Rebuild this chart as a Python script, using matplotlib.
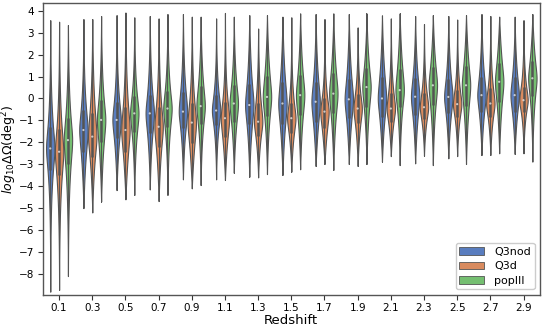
import colorsys
import numpy as np
import matplotlib
matplotlib.use("Agg")
import matplotlib.pyplot as plt
import seaborn as sns
from matplotlib.patches import Patch

redshift = ["0.1", "0.3", "0.5", "0.7", "0.9", "1.1", "1.3", "1.5",
            "1.7", "1.9", "2.1", "2.3", "2.5", "2.7", "2.9"]
models = ["Q3nod", "Q3d", "popIII"]

# per-violin summary: top tip, upper quartile, median, lower quartile, bottom tip
q3nod_hi = [3.57, 3.62, 3.80, 3.76, 3.85, 3.65, 3.80, 3.73, 3.85, 3.85, 3.79, 3.76, 3.76, 3.85, 3.73]
q3nod_q3 = [-1.29, -0.53, -0.15, 0.18, 0.30, 0.15, 0.66, 0.76, 0.76, 0.87, 0.96, 0.91, 0.87, 0.96, 0.96]
q3nod_med = [-2.28, -1.44, -0.98, -0.68, -0.60, -0.55, -0.30, -0.23, -0.15, -0.04, 0.00, 0.08, 0.07, 0.15, 0.15]
q3nod_q1 = [-3.26, -2.43, -1.82, -1.56, -1.36, -1.21, -1.17, -1.17, -1.06, -0.90, -0.83, -0.76, -0.68, -0.60, -0.60]
q3nod_lo = [-8.81, -5.00, -4.18, -4.15, -3.69, -3.69, -3.57, -3.49, -3.08, -2.99, -2.88, -2.96, -2.73, -2.58, -2.53]

q3d_hi = [3.50, 3.62, 3.92, 3.65, 3.73, 3.90, 3.19, 3.70, 3.62, 3.24, 3.65, 3.39, 3.60, 3.76, 3.57]
q3d_q3 = [-1.41, -0.65, -0.41, -0.38, -0.23, -0.15, -0.23, -0.23, 0.03, 0.20, 0.23, 0.23, 0.38, 0.46, 0.53]
q3d_med = [-2.43, -1.74, -1.44, -1.29, -1.10, -0.90, -1.06, -0.90, -0.60, -0.46, -0.46, -0.40, -0.26, -0.23, -0.08]
q3d_q1 = [-3.50, -2.66, -2.43, -2.23, -2.05, -1.74, -1.71, -1.56, -1.36, -1.14, -1.06, -0.95, -0.83, -0.83, -0.60]
q3d_lo = [-8.73, -5.20, -4.60, -4.68, -4.10, -3.72, -3.60, -3.34, -2.99, -3.08, -2.63, -2.61, -2.63, -2.58, -2.50]

pop3_hi = [3.35, 3.76, 3.70, 3.85, 3.73, 3.73, 3.80, 3.88, 3.88, 3.88, 3.88, 3.80, 3.80, 3.73, 3.85]
pop3_q3 = [-0.90, -0.08, 0.10, 0.35, 0.56, 0.60, 1.02, 1.07, 1.14, 1.37, 1.33, 1.45, 1.48, 1.63, 1.72]
pop3_med = [-1.90, -0.98, -0.68, -0.46, -0.35, -0.23, 0.07, 0.15, 0.22, 0.52, 0.38, 0.60, 0.60, 0.76, 0.92]
pop3_q1 = [-2.99, -1.97, -1.52, -1.32, -1.17, -1.06, -0.80, -0.76, -0.68, -0.38, -0.41, -0.30, -0.35, -0.15, 0.10]
pop3_lo = [-8.10, -4.70, -4.40, -4.40, -3.95, -3.39, -3.45, -3.23, -3.26, -2.99, -3.04, -3.04, -2.99, -2.50, -2.88]

stats = {
    "Q3nod": (q3nod_hi, q3nod_q3, q3nod_med, q3nod_q1, q3nod_lo),
    "Q3d": (q3d_hi, q3d_q3, q3d_med, q3d_q1, q3d_lo),
    "popIII": (pop3_hi, pop3_q3, pop3_med, pop3_q1, pop3_lo),
}

colors = sns.color_palette("muted", 3, desat=0.75)
lum = min(colorsys.rgb_to_hls(*c)[1] for c in colors) * 0.6
gray = (lum, lum, lum)


def shape(hi, q3, med, q1, lo, n=400):
    # slightly rounded Laplace-like profile matching the quartiles
    y = np.linspace(lo, hi, n)
    d = y - med
    b = np.where(d > 0, (q3 - med) / 0.693, (med - q1) / 0.693)
    b0 = 0.35 * b
    f = np.exp(-(np.sqrt(b0 ** 2 + d ** 2) - b0) / b)
    D = np.where(d > 0, hi - med, med - lo)
    f = f * (1 - np.clip(np.abs(d) / D, 0, 1) ** 4)
    return y, f


fig = plt.figure(figsize=(5.45, 3.27), dpi=100)
ax = fig.add_axes([0.078, 0.098, 0.913, 0.892])

n_hue = len(models)
each = 0.8 / n_hue
for h, (m, col) in enumerate(zip(models, colors)):
    hi, q3, med, q1, lo = stats[m]
    offset = -0.4 + each / 2 + h * each
    for i in range(len(redshift)):
        x = i + offset
        y, f = shape(hi[i], q3[i], med[i], q1[i], lo[i])
        vp = [{"coords": y, "vals": f, "mean": med[i], "median": med[i],
               "min": lo[i], "max": hi[i]}]
        parts = ax.violin(vp, positions=[x], widths=each * 0.95, showmeans=False,
                          showextrema=False, showmedians=False)
        for b in parts["bodies"]:
            b.set_facecolor(col)
            b.set_edgecolor(gray)
            b.set_linewidth(0.8)
            b.set_alpha(1)
            b.set_zorder(1)
        iqr = q3[i] - q1[i]
        wlo = max(lo[i], q1[i] - 1.5 * iqr)
        whi = min(hi[i], q3[i] + 1.5 * iqr)
        ax.plot([x, x], [wlo, whi], color=gray, lw=0.7, zorder=2)
        ax.plot([x, x], [q1[i], q3[i]], color=gray, lw=1.8, zorder=2,
                solid_capstyle="butt")
        ax.scatter([x], [med[i]], s=2.5, color="white", edgecolor="none",
                   alpha=0.7, zorder=3)

ax.set_xlim(-0.5, len(redshift) - 0.5)
ax.set_ylim(-8.96, 4.34)
ax.set_xticks(range(len(redshift)))
ax.set_xticklabels(redshift)
ax.set_yticks(range(-8, 5))
ax.tick_params(labelsize=7.5, length=3.5, width=0.8, color="#333333", pad=2.5)
for sp in ax.spines.values():
    sp.set_color("#555555")
    sp.set_linewidth(1.0)
ax.set_xlabel("Redshift", fontsize=9.5, labelpad=0.5)
ax.set_ylabel(r"$log_{10}\Delta\Omega(\mathrm{deg}^2)$", fontsize=9)
ax.yaxis.set_label_coords(-0.047, 0.5)

handles = [Patch(facecolor=c, edgecolor=gray, linewidth=0.6, label=m)
           for m, c in zip(models, colors)]
ax.legend(handles=handles, loc="lower right", fontsize=8, framealpha=1,
          borderaxespad=0.5, labelspacing=0.38, borderpad=0.35,
          handlelength=2.2, handletextpad=0.9)

fig.savefig("out.png", dpi=100)
